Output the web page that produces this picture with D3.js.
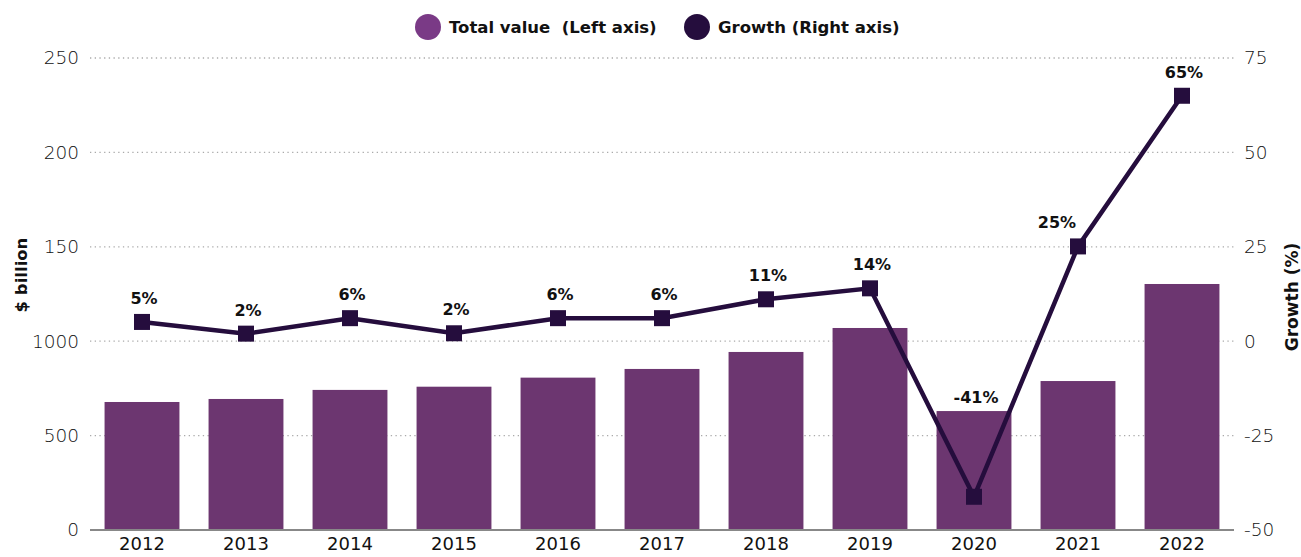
<!DOCTYPE html>
<html>
<head>
<meta charset="utf-8">
<script src="https://cdn.jsdelivr.net/npm/d3@7"></script>
<style>
  body { margin: 0; background: #fff; }
  text { font-family: "DejaVu Sans", sans-serif; }
</style>
</head>
<body>
<div id="chart"></div>
<script>
const years = ["2012", "2013", "2014", "2015", "2016", "2017", "2018", "2019", "2020", "2021", "2022"];
const totalValue = [678, 694, 742, 759, 807, 853, 943, 1070, 630, 789, 1303];
const growth = [5.1, 2.0, 6.1, 2.1, 6.1, 6.1, 11.1, 14.0, -41.2, 25.1, 65.0];
const growthLabels = ["5%", "2%", "6%", "2%", "6%", "6%", "11%", "14%", "-41%", "25%", "65%"];
const leftTicks = [0, 500, 1000, 1500, 2000, 2500];
const leftTickLabels = ["0", "500", "1000", "150", "200", "250"];
const rightTicks = [-50, -25, 0, 25, 50, 75];

const width = 1301, height = 557;
const margin = { top: 58, right: 67, bottom: 27, left: 90 };

const barColor = "#6c3670";
const lineColor = "#250d3d";
const font = "'DejaVu Sans', sans-serif";

const svg = d3.select("#chart")
  .append("svg")
  .attr("width", width)
  .attr("height", height);

const x = d3.scaleBand()
  .domain(years)
  .range([margin.left, width - margin.right])
  .paddingInner(0.28)
  .paddingOuter(0.14);

const yLeft = d3.scaleLinear()
  .domain([0, 2500])
  .range([height - margin.bottom, margin.top]);

const yRight = d3.scaleLinear()
  .domain([-50, 75])
  .range([height - margin.bottom, margin.top]);

// dotted gridlines
svg.append("g")
  .selectAll("line")
  .data(leftTicks.slice(1))
  .join("line")
  .attr("x1", margin.left)
  .attr("x2", width - margin.right)
  .attr("y1", d => yLeft(d))
  .attr("y2", d => yLeft(d))
  .attr("stroke", "#aaa")
  .attr("stroke-width", 1.3)
  .attr("stroke-dasharray", "1.3,3.4");

const styleTicks = (sel) => sel.selectAll("text")
  .attr("font-size", 18.5)
  .attr("font-weight", 200)
  .attr("fill", "#111")
  .attr("font-family", font);

// left axis
svg.append("g")
  .attr("transform", `translate(${margin.left},0)`)
  .call(d3.axisLeft(yLeft)
    .tickValues(leftTicks)
    .tickFormat((d, i) => leftTickLabels[i])
    .tickSize(0)
    .tickPadding(11))
  .call(g => g.select(".domain").remove())
  .call(styleTicks);

// right axis
svg.append("g")
  .attr("transform", `translate(${width - margin.right},0)`)
  .call(d3.axisRight(yRight)
    .tickValues(rightTicks)
    .tickFormat(d => String(d))
    .tickSize(0)
    .tickPadding(10))
  .call(g => g.select(".domain").remove())
  .call(styleTicks);

// bars
svg.append("g")
  .selectAll("rect")
  .data(totalValue)
  .join("rect")
  .attr("x", (d, i) => x(years[i]))
  .attr("width", x.bandwidth())
  .attr("y", d => yLeft(d))
  .attr("height", d => yLeft(0) - yLeft(d))
  .attr("fill", barColor);

// baseline
svg.append("line")
  .attr("x1", margin.left)
  .attr("x2", width - margin.right)
  .attr("y1", yLeft(0))
  .attr("y2", yLeft(0))
  .attr("stroke", "#888")
  .attr("stroke-width", 2);

// x axis
svg.append("g")
  .attr("transform", `translate(0,${yLeft(0)})`)
  .call(d3.axisBottom(x).tickSize(0).tickPadding(7))
  .call(g => g.select(".domain").remove())
  .selectAll("text")
  .attr("font-size", 18)
  .attr("fill", "#111")
  .attr("font-family", font);

// growth line
const cx = (i) => x(years[i]) + x.bandwidth() / 2;
const line = d3.line()
  .x((d, i) => cx(i))
  .y(d => yRight(d));

svg.append("path")
  .datum(growth)
  .attr("d", line)
  .attr("fill", "none")
  .attr("stroke", lineColor)
  .attr("stroke-width", 4.5);

const markSize = 16;
svg.append("g")
  .selectAll("rect")
  .data(growth)
  .join("rect")
  .attr("x", (d, i) => cx(i) - markSize / 2)
  .attr("y", d => yRight(d) - markSize / 2)
  .attr("width", markSize)
  .attr("height", markSize)
  .attr("fill", lineColor);

// labels: -41% sits on top of its bar, 25% is nudged left of the line
svg.append("g")
  .selectAll("text")
  .data(growth)
  .join("text")
  .attr("x", (d, i) => years[i] === "2021" ? cx(i) - 21 : cx(i) + 2)
  .attr("y", (d, i) => years[i] === "2020" ? yLeft(totalValue[i]) - 8 : yRight(d) - 18)
  .attr("text-anchor", "middle")
  .attr("font-size", 16)
  .attr("font-weight", "bold")
  .attr("fill", "#111")
  .text((d, i) => growthLabels[i]);

// axis titles
svg.append("text")
  .attr("transform", "translate(27,275) rotate(-90)")
  .attr("text-anchor", "middle")
  .attr("font-size", 16.5)
  .attr("font-weight", "bold")
  .attr("fill", "#111")
  .text("$ billion");

svg.append("text")
  .attr("transform", "translate(1298,297) rotate(-90)")
  .attr("text-anchor", "middle")
  .attr("font-size", 17)
  .attr("font-weight", "bold")
  .attr("fill", "#111")
  .text("Growth (%)");

// legend
const legendItems = [
  { label: "Total value  (Left axis)", color: "#7a3a86", cx: 428 },
  { label: "Growth (Right axis)", color: lineColor, cx: 697 }
];
const legend = svg.append("g")
  .selectAll("g")
  .data(legendItems)
  .join("g")
  .attr("transform", d => `translate(${d.cx},27)`);

legend.append("circle")
  .attr("r", 13)
  .attr("fill", d => d.color);

legend.append("text")
  .attr("x", 21)
  .attr("y", 6)
  .attr("font-size", 16.5)
  .attr("font-weight", "bold")
  .attr("fill", "#111")
  .style("white-space", "pre")
  .text(d => d.label);
</script>
</body>
</html>
